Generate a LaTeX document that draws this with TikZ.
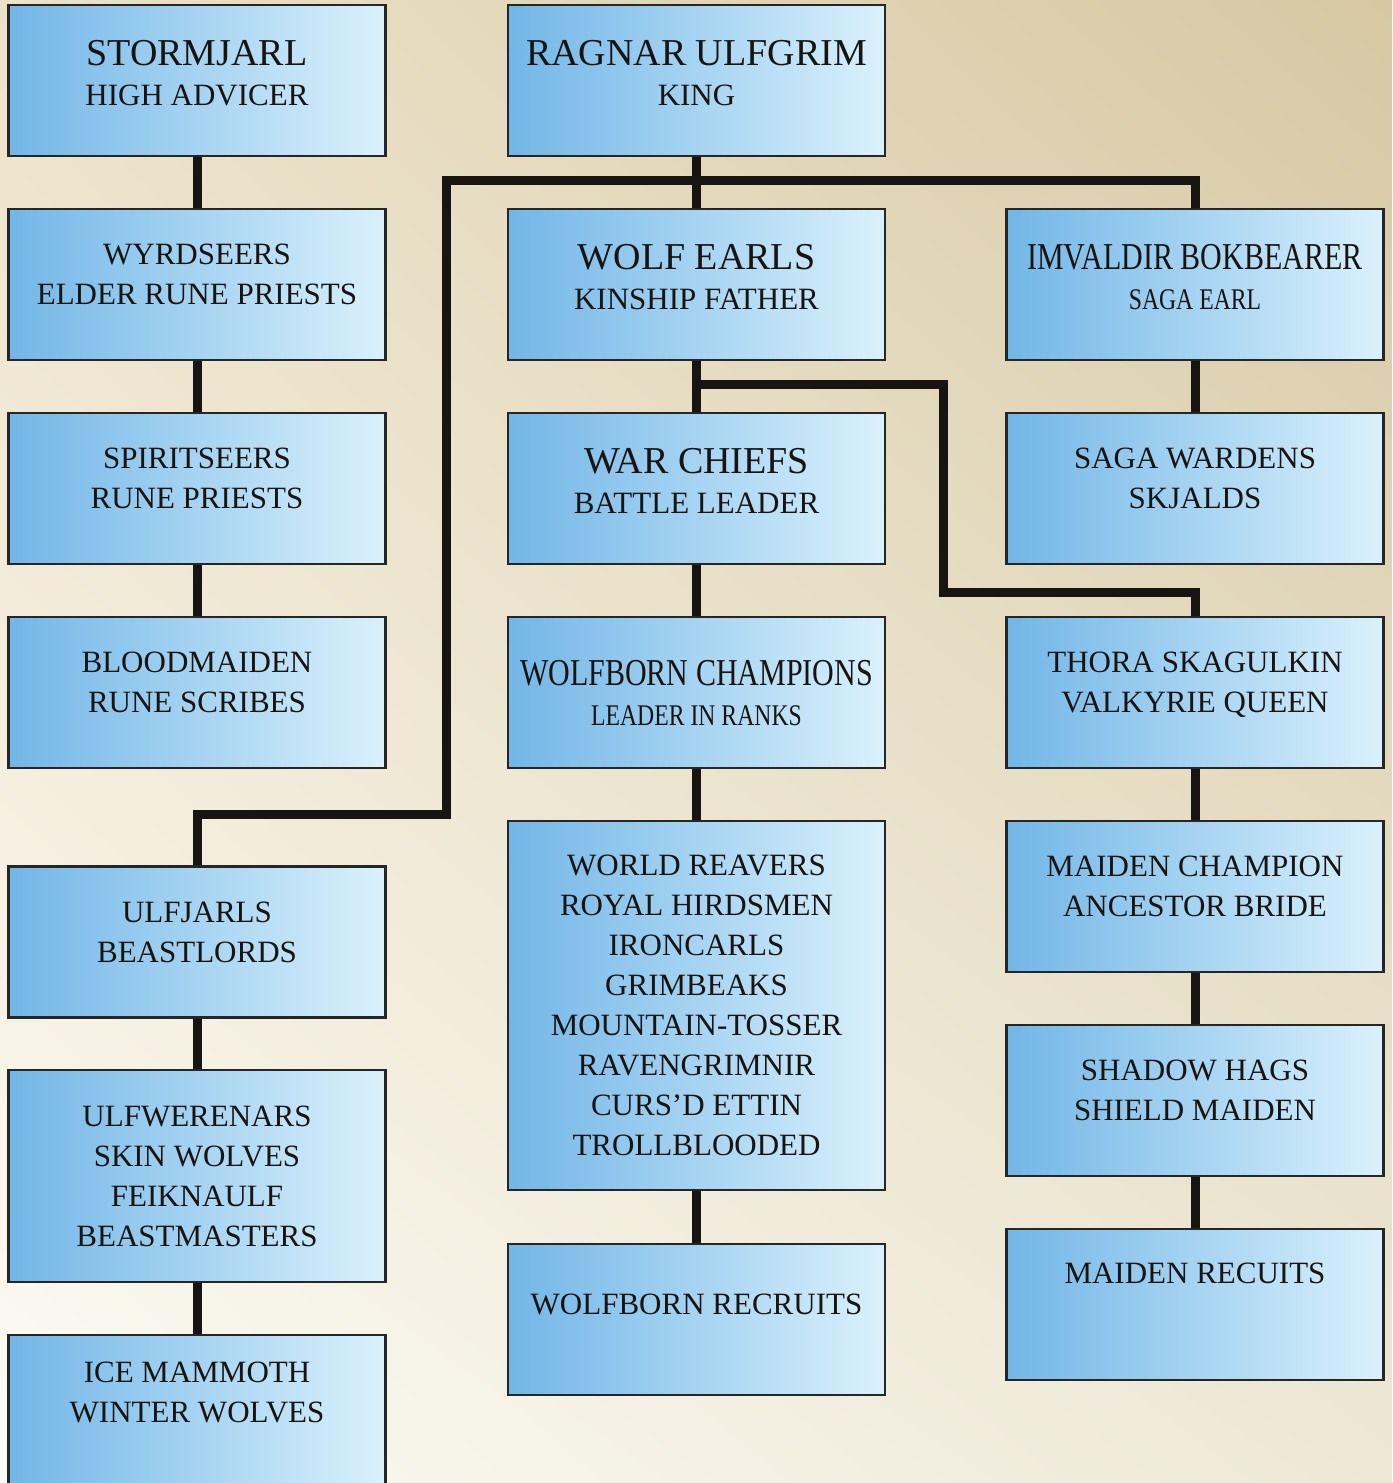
\documentclass[tikz,border=0pt]{standalone}
\usepackage{fontspec}
\setmainfont{Liberation Serif}
\newfontfamily\narrowfont[FakeStretch=0.79]{Liberation Serif}
\usepackage{tikz}
\usetikzlibrary{shadings}
\definecolor{icedark}{HTML}{72B6E7}
\definecolor{icelight}{HTML}{DAF1FC}
\definecolor{boxline}{HTML}{262626}
\definecolor{inkblack}{HTML}{171411}
\definecolor{parchtl}{HTML}{ECE2C9}
\definecolor{parchtr}{HTML}{D7C8A3}
\definecolor{parchbl}{HTML}{FCFBF4}
\definecolor{parchbr}{HTML}{EDE8D6}
\newcommand{\headline}[1]{{\fontsize{38}{40}\selectfont #1}}
\newcommand{\narrowhead}[1]{{\narrowfont\fontsize{38}{40}\selectfont #1}}
\newcommand{\narrowsub}[1]{{\narrowfont\fontsize{30}{40}\selectfont #1}}
\tikzset{
	rankbox/.style={
			shape=rectangle,
			draw=boxline,
			line width=2.5pt,
			left color=icedark,
			right color=icelight,
			minimum width=377pt,
			minimum height=151pt,
			inner sep=0pt,
			align=center,
			text=inkblack,
			font=\fontsize{31}{40}\selectfont,
			text depth=20pt
		},
	tallbox/.style={
			rankbox,
			text depth=0pt
		},
	link/.style={
			draw=inkblack,
			line width=9pt
		}
}

\begin{document}
\begin{tikzpicture}[x=1pt, y=-1pt]
	\useasboundingbox (0,0) rectangle (1392,1483);
	\shade[upper left=parchtl, upper right=parchtr, lower left=parchbl, lower right=parchbr]
		(0,0) rectangle (1392,1483);

	% left column
	\node[rankbox, text depth=16pt] (storm) at (197,80.5) {\headline{STORMJARL}\\HIGH ADVICER};
	\node[rankbox] (wyrd) at (197,284.5) {WYRDSEERS\\ELDER RUNE PRIESTS};
	\node[rankbox] (spirit) at (197,488.5) {SPIRITSEERS\\RUNE PRIESTS};
	\node[rankbox] (blood) at (197,692.5) {BLOODMAIDEN\\RUNE SCRIBES};
	\node[rankbox] (ulfjarls) at (197,942) {ULFJARLS\\BEASTLORDS};
	\node[tallbox, minimum height=212pt] (ulfwere) at (197,1176) {ULFWERENARS\\SKIN WOLVES\\FEIKNAULF\\BEASTMASTERS};
	\node[rankbox, text depth=36pt] (mammoth) at (197,1410.5) {ICE MAMMOTH\\WINTER WOLVES};

	% middle column
	\node[rankbox, text depth=16pt] (king) at (696.5,80.5) {\headline{RAGNAR ULFGRIM}\\KING};
	\node[rankbox, text depth=16pt] (earls) at (696.5,284.5) {\headline{WOLF EARLS}\\KINSHIP FATHER};
	\node[rankbox, text depth=16pt] (chiefs) at (696.5,488.5) {\headline{WAR CHIEFS}\\BATTLE LEADER};
	\node[rankbox, text depth=0pt] (champions) at (696.5,692.5) {\narrowhead{WOLFBORN CHAMPIONS}\\\narrowsub{LEADER IN RANKS}};
	\node[tallbox, minimum height=369pt] (reavers) at (696.5,1005.5) {WORLD REAVERS\\ROYAL HIRDSMEN\\IRONCARLS\\GRIMBEAKS\\MOUNTAIN-TOSSER\\RAVENGRIMNIR\\CURS'D ETTIN\\TROLLBLOODED};
	\node[rankbox, text depth=30pt] (recruits) at (696.5,1319.5) {WOLFBORN RECRUITS};

	% right column
	\node[rankbox, text depth=16pt] (imvaldir) at (1195,284.5) {\narrowhead{IMVALDIR BOKBEARER}\\\narrowsub{SAGA EARL}};
	\node[rankbox] (wardens) at (1195,488.5) {SAGA WARDENS\\SKJALDS};
	\node[rankbox] (thora) at (1195,692.5) {THORA SKAGULKIN\\VALKYRIE QUEEN};
	\node[rankbox] (champion) at (1195,896.5) {MAIDEN CHAMPION\\ANCESTOR BRIDE};
	\node[rankbox] (hags) at (1195,1100.5) {SHADOW HAGS\\SHIELD MAIDEN};
	\node[rankbox, text depth=62pt] (maidens) at (1195,1304.5) {MAIDEN RECUITS};

	\coordinate (lefttop) at (446,180);
	\coordinate (leftdrop) at (446,814);
	\coordinate (earlsplit) at (696.5,384);
	\coordinate (rightdrop) at (943,592);

	\draw[link] (storm.south) -- (wyrd.north);
	\draw[link] (wyrd.south) -- (spirit.north);
	\draw[link] (spirit.south) -- (blood.north);
	\draw[link] (ulfjarls.south) -- (ulfwere.north);
	\draw[link] (ulfwere.south) -- (mammoth.north);

	\draw[link] (king.south) -- (earls.north);
	\draw[link] (earls.south) -- (chiefs.north);
	\draw[link] (chiefs.south) -- (champions.north);
	\draw[link] (champions.south) -- (reavers.north);
	\draw[link] (reavers.south) -- (recruits.north);

	\draw[link] (imvaldir.south) -- (wardens.north);
	\draw[link] (thora.south) -- (champion.north);
	\draw[link] (champion.south) -- (hags.north);
	\draw[link] (hags.south) -- (maidens.north);

	\draw[link] (ulfjarls.north) |- (leftdrop) -- (lefttop) -| (imvaldir.north);
	\draw[link] (earlsplit) -| (rightdrop) -| (thora.north);
\end{tikzpicture}
\end{document}
